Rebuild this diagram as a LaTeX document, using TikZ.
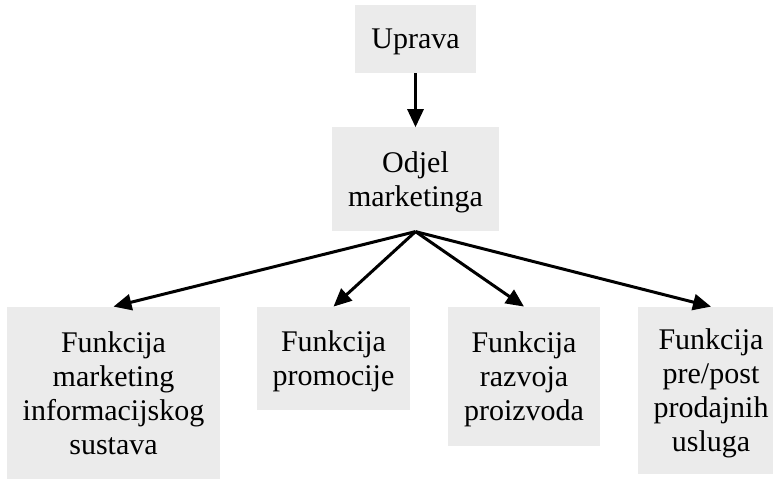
\documentclass[tikz,border=0pt]{standalone}
\usepackage{fontspec}
\setmainfont{Liberation Serif}
\usepackage{tikz}
\usetikzlibrary{arrows.meta,positioning}
\definecolor{boxgray}{HTML}{EBEBEB}

\begin{document}
\begin{tikzpicture}[x=1pt, y=1pt, node distance=54pt,
    every node/.style={font=\fontsize{30}{34}\selectfont},
    orgbox/.style={fill=boxgray, align=center, inner xsep=16pt, inner ysep=0pt, text depth=-2pt},
    link/.style={-{Triangle[length=18pt, width=16pt]}, line width=3pt}]
  \useasboundingbox (0,0) rectangle (773,-482);
  \node[orgbox, minimum height=68pt] (uprava) at (415.5,-39) {Uprava};
  \node[orgbox, minimum height=104pt, below=of uprava] (odjel) {Odjel\\marketinga};
  \node[orgbox, minimum height=172pt, minimum width=213pt, below=75pt of odjel, xshift=-302pt] (fmis) {Funkcija\\marketing\\informacijskog\\sustava};
  \node[orgbox, minimum height=103pt, below=75pt of odjel, xshift=-82pt] (promo) {Funkcija\\promocije};
  \node[orgbox, minimum height=139pt, below=75pt of odjel, xshift=108.5pt] (razvoj) {Funkcija\\razvoja\\proizvoda};
  \node[orgbox, minimum height=167pt, below=75pt of odjel, xshift=295.5pt] (usluge) {Funkcija\\pre/post\\prodajnih\\usluga};
  \draw[link] (uprava) -- (odjel);
  \draw[link] (odjel.south) -- (fmis.north);
  \draw[link] (odjel.south) -- (promo.north);
  \draw[link] (odjel.south) -- (razvoj.north);
  \draw[link] (odjel.south) -- (usluge.north);
\end{tikzpicture}
\end{document}
